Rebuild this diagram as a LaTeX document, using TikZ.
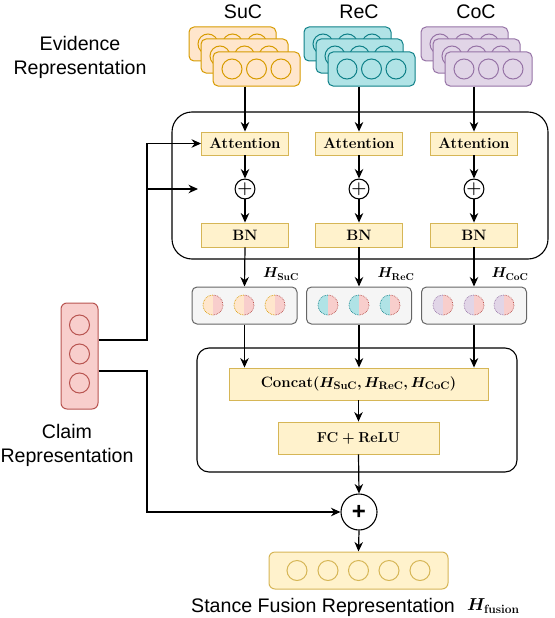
\documentclass[tikz,border=0pt]{standalone}
\usepackage{fontspec}
\newfontfamily\sansf{Liberation Sans}
\usetikzlibrary{arrows.meta}
\definecolor{sucF}{HTML}{FFE6CC}\definecolor{sucD}{HTML}{D79B00}
\definecolor{recF}{HTML}{B0E3E6}\definecolor{recD}{HTML}{0E8088}
\definecolor{cocF}{HTML}{E1D5E7}\definecolor{cocD}{HTML}{9673A6}
\definecolor{clF}{HTML}{F8CECC}\definecolor{clD}{HTML}{B85450}
\definecolor{yF}{HTML}{FFF2CC}\definecolor{yD}{HTML}{D6B656}
\definecolor{gF}{HTML}{F5F5F5}\definecolor{gD}{HTML}{666666}
\newcommand\lmb{\fontsize{15}{18}\selectfont\bfseries\boldmath}
\newcommand\lmh{\fontsize{14}{16}\selectfont\bfseries\boldmath}
\newcommand\sfz{\sansf\fontsize{19.6}{24}\selectfont}
\newcommand\EvStack[4]{%
  \foreach \k/\dx/\dy in {1/0/0,2/12/12,3/24/25}{%
    \node[card, draw=#4, fill=#3] (#1\k) at (#2+43.5+\dx, 44+\dy) {};
    \foreach \cx in {-24.5,0,24.5}
      \draw[draw=#4, line width=1pt] (#1\k.center) ++(\cx,0) circle[radius=10];
  }}
\newcommand\SplitC[4]{%
  \begin{scope}
    \clip (#1,#2) circle[radius=10];
    \fill[#3] (#1-10,#2-10) rectangle (#1,#2+10);
    \fill[clF] (#1,#2-10) rectangle (#1+10,#2+10);
  \end{scope}
  \begin{scope}
    \clip (#1-11,#2-11) rectangle (#1,#2+11);
    \draw[#4, densely dotted, line width=0.7pt] (#1,#2) circle[radius=10];
  \end{scope}
  \begin{scope}
    \clip (#1,#2-11) rectangle (#1+11,#2+11);
    \draw[clD, densely dotted, line width=0.7pt] (#1,#2) circle[radius=10];
  \end{scope}}
\begin{document}
\begin{tikzpicture}[x=1pt,y=-1pt,
  card/.style={draw, rounded corners=5pt, minimum width=87pt, minimum height=34pt, line width=1pt, inner sep=0pt},
  blk/.style={draw=yD, fill=yF, line width=0.9pt, inner sep=0pt, font=\lmb},
  gbox/.style={draw=gD, fill=gF, rounded corners=5pt, line width=1pt, minimum width=105pt, minimum height=37pt, inner sep=0pt},
  bigbox/.style={draw, line width=1.1pt, inner sep=0pt},
  plusc/.style={draw, circle, fill=white, line width=1.1pt, inner sep=0pt, minimum size=19pt},
  arr/.style={-{Stealth[length=9.5pt,width=8.5pt]}, line width=1.2pt},
  lab/.style={font=\sfz, inner sep=0pt, align=center},
  hlab/.style={font=\lmh, inner sep=0pt}]
\useasboundingbox (0,0) rectangle (554,618);

% evidence stacks
\EvStack{suc}{189}{sucF}{sucD}
\EvStack{rec}{304}{recF}{recD}
\EvStack{coc}{421}{cocF}{cocD}
\node[lab] (lsuc) at (243,12) {SuC};
\node[lab] (lrec) at (359,12) {ReC};
\node[lab] (lcoc) at (476,12) {CoC};
\node[lab] (levi) at (80,57) {Evidence\\[0pt]Representation};

% upper big box
\node[bigbox, rounded corners=20pt, minimum width=376pt, minimum height=147pt] (box1) at (360,185.5) {};

% attention / plus / BN
\node[blk, minimum width=87pt, minimum height=23pt] (a1) at (245,143.5) {Attention};
\node[blk, minimum width=87pt, minimum height=23pt] (a2) at (359,143.5) {Attention};
\node[blk, minimum width=87pt, minimum height=23pt] (a3) at (474,143.5) {Attention};
\node[plusc, font=\fontsize{19}{19}\selectfont\boldmath] (p1) at (245,189) {$+$};
\node[plusc, font=\fontsize{19}{19}\selectfont\boldmath] (p2) at (359,189) {$+$};
\node[plusc, font=\fontsize{19}{19}\selectfont\boldmath] (p3) at (474,189) {$+$};
\node[blk, minimum width=87pt, minimum height=24pt] (b1) at (245,235) {BN};
\node[blk, minimum width=87pt, minimum height=24pt] (b2) at (359,235) {BN};
\node[blk, minimum width=87pt, minimum height=24pt] (b3) at (474,235) {BN};

\draw[arr] (a1 |- suc3.south) -- (a1.north);
\draw[arr] (a2 |- rec3.south) -- (a2.north);
\draw[arr] (a3 |- coc3.south) -- (a3.north);
\foreach \i in {1,2,3}{
  \draw[arr] (a\i.south) -- (p\i.north);
  \draw[arr] (p\i.south) -- (b\i.north);
}

% gray boxes
\node[gbox] (g1) at (244.5,305.5) {};
\node[gbox] (g2) at (359,305.5) {};
\node[gbox] (g3) at (474,305.5) {};
\foreach \cx in {213,244,275} {\SplitC{\cx}{305}{sucF}{sucD}}
\foreach \cx in {328,359,390} {\SplitC{\cx}{305}{recF}{recD}}
\foreach \cx in {443,474,504} {\SplitC{\cx}{305}{cocF}{cocD}}
\foreach \i in {1,2,3} \draw[arr] (b\i.south) -- (g\i.north);
\node[hlab] (h1) at (281,274) {$H_{\mathbf{SuC}}$};
\node[hlab] (h2) at (396,274) {$H_{\mathbf{ReC}}$};
\node[hlab] (h3) at (510,274) {$H_{\mathbf{CoC}}$};

% lower big box
\node[bigbox, rounded corners=12pt, minimum width=320pt, minimum height=124pt] (box2) at (357,410) {};
\node[blk, minimum width=259pt, minimum height=32pt] (cc) at (358.5,384) {Concat$(H_{\mathbf{SuC}},H_{\mathbf{ReC}},H_{\mathbf{CoC}})$};
\node[blk, minimum width=161pt, minimum height=32pt] (fc) at (358.5,438) {$\mathbf{FC}+\mathbf{ReLU}$};
\draw[arr] (g1.south) -- (g1.south |- cc.north);
\draw[arr] (g2.south) -- (g2.south |- cc.north);
\draw[arr] (g3.south) -- (g3.south |- cc.north);
\draw[arr] (cc.south -| fc) -- (fc.north);

% fusion
\node[plusc, minimum size=36pt, font=\sansf\bfseries\fontsize{24}{24}\selectfont] (P) at (359,512) {+};
\node[draw=yD, fill=yF, rounded corners=6pt, line width=1pt, minimum width=179pt, minimum height=37pt, inner sep=0pt] (fu) at (358.5,570.5) {};
\foreach \cx in {-61.5,-30.5,0,30.5,61.5}
  \draw[yD, line width=1pt] (fu.center) ++(\cx,0) circle[radius=10];
\draw[arr] (fc.south) -- (P.north);
\draw[arr] (P.south) -- (fu.north);
\node[font=\sfz, anchor=west, inner sep=0pt] (fl) at (191,607) {Stance Fusion Representation};
\node[font=\fontsize{16.5}{18}\selectfont\bfseries\boldmath, anchor=west, inner sep=0pt] (fh) at (467,606) {$H_{\mathbf{fusion}}$};

% claim
\node[draw=clD, fill=clF, rounded corners=6pt, line width=1pt, minimum width=37pt, minimum height=106pt, inner sep=0pt] (cl) at (79.5,356) {};
\foreach \cy in {-31,-2,27}
  \draw[clD, line width=1pt] (cl.center) ++(0,\cy) circle[radius=10];
\node[lab] (lcl) at (67,445) {Claim\\[0pt]Representation};

\coordinate (bus) at (147,0);
\coordinate (pin1) at (198,189);
\draw[arr] ([yshift=16pt]cl.east) -| (bus |- a1.west) -- (a1.west);
\draw[arr] (bus |- p1) -- (pin1);
\draw[arr] ([yshift=-15pt]cl.east) -| (bus |- P.west) -- (P.west);
\end{tikzpicture}
\end{document}
